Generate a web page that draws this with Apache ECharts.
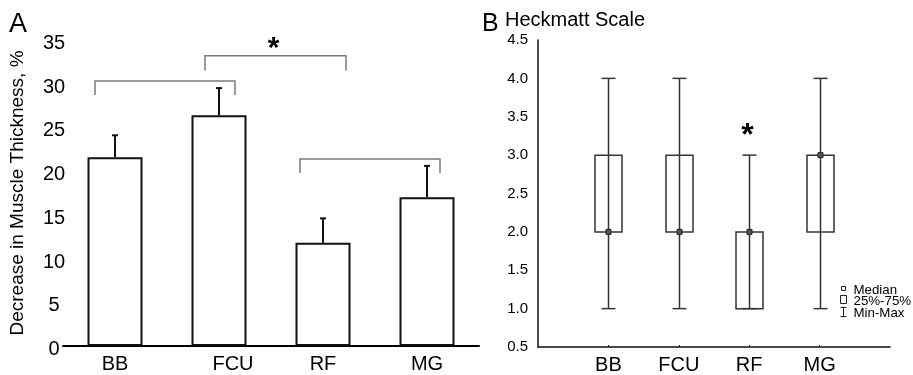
<!DOCTYPE html>
<html><head><meta charset="utf-8">
<script src="https://cdn.jsdelivr.net/npm/echarts@6/dist/echarts.min.js"></script>
<style>html,body{margin:0;padding:0;background:#fff}#c{width:913px;height:375px}</style>
</head><body><div id="c"></div>
<script>
// ---- Panel A data ----
const categories = ['BB', 'FCU', 'RF', 'MG'];
const meanDecrease = [21.6, 26.4, 11.8, 17.0];
const errorUpper = [24.1, 29.5, 14.6, 20.6];
const bracketFrom = ['BB', 'FCU', 'RF'];
const bracketTo = ['FCU', 'RF', 'MG'];
const bracketTop = [30.3, 33.2, 21.4];
const bracketLeg = [28.7, 31.5, 19.8];
const bracketSig = ['', '*', ''];
const yAxisTitleA = 'Decrease in Muscle Thickness, %';

// ---- Panel B data (Heckmatt scale) ----
const heckMin = [1, 1, 1, 1];
const heckQ1 = [2, 2, 1, 2];
const heckMedian = [2, 2, 2, 3];
const heckQ3 = [3, 3, 2, 3];
const heckMax = [4, 4, 3, 4];
const heckSig = ['', '', '*', ''];
const legendLabels = ['Median', '25%-75%', 'Min-Max'];

const FONT = 'Liberation Sans, Arial, Helvetica, sans-serif';
const chart = echarts.init(document.getElementById('c'), null, {renderer: 'canvas'});

// style-only pixel offsets of bracket ends relative to bar centres
const bracketOffsets = [[-20, 16], [-14, 23], [-23, 13]];

const bracketData = bracketFrom.map((f, i) => [categories.indexOf(f), categories.indexOf(bracketTo[i]), bracketTop[i], bracketLeg[i], i]);
const errData = categories.map((c, i) => [i, meanDecrease[i], errorUpper[i]]);
const boxData = categories.map((c, i) => [i + 1, heckMin[i], heckQ1[i], heckMedian[i], heckQ3[i], heckMax[i]]);

const option = {
  animation: false,
  backgroundColor: '#fff',
  textStyle: {fontFamily: FONT},
  grid: [
    {left: 63, top: 40, width: 416, height: 306, containLabel: false},
    {left: 538, top: 40, width: 352, height: 307.5, containLabel: false}
  ],
  xAxis: [
    {
      type: 'category', gridIndex: 0, data: categories,
      axisLine: {lineStyle: {color: '#000', width: 2}},
      axisTick: {show: false},
      axisLabel: {
        color: '#000', fontSize: 20, fontFamily: FONT, margin: 8,
        formatter: v => v === 'FCU' ? '{s|' + v + '}' : v,
        rich: {s: {fontSize: 20, fontFamily: FONT, color: '#000', padding: [0, 0, 0, 28]}}
      }
    },
    {
      type: 'category', gridIndex: 1, data: [''].concat(categories, ['']), boundaryGap: false,
      axisLine: {lineStyle: {color: '#111', width: 1.5}},
      axisTick: {show: true, inside: true, length: 2, lineStyle: {color: '#111'},
        interval: (i) => i > 0 && i < categories.length + 1},
      axisLabel: {color: '#000', fontSize: 20, fontFamily: FONT, margin: 8,
        interval: 0}
    }
  ],
  yAxis: [
    {
      type: 'value', gridIndex: 0, min: 0, max: 35, interval: 5,
      axisLine: {show: false}, axisTick: {show: false}, splitLine: {show: false},
      axisLabel: {color: '#000', fontSize: 20, fontFamily: FONT, margin: 9, align: 'center',
        formatter: v => '{a|' + v + '}',
        rich: {a: {fontSize: 20, fontFamily: FONT, color: '#000', padding: [7, 0, 0, 0]}}},
      name: yAxisTitleA, nameLocation: 'middle', nameGap: 36, nameRotate: 90,
      nameTextStyle: {color: '#000', fontSize: 19, fontFamily: FONT}
    },
    {
      type: 'value', gridIndex: 1, min: 0.5, max: 4.5, interval: 0.5,
      axisLine: {show: true, lineStyle: {color: '#111', width: 1.5}},
      axisTick: {show: false}, splitLine: {show: false},
      axisLabel: {color: '#000', fontSize: 15, fontFamily: FONT, margin: 10,
        formatter: v => v.toFixed(1)}
    }
  ],
  series: [
    {
      type: 'bar', xAxisIndex: 0, yAxisIndex: 0, data: meanDecrease, barWidth: 55,
      itemStyle: {color: '#fff', borderColor: '#111', borderWidth: 2},
      z: 2
    },
    {
      type: 'custom', xAxisIndex: 0, yAxisIndex: 0, data: errData,
      encode: {x: 0, y: [1, 2]}, z: 3,
      renderItem: (params, api) => {
        const i = api.value(0);
        const b = api.coord([i, api.value(1)]);
        const t = api.coord([i, api.value(2)]);
        const x = Math.round(b[0]);
        return {type: 'group', children: [
          {type: 'line', shape: {x1: x, y1: b[1], x2: x, y2: t[1]}, style: {stroke: '#111', lineWidth: 2}},
          {type: 'line', shape: {x1: x - 3, y1: t[1], x2: x + 3, y2: t[1]}, style: {stroke: '#111', lineWidth: 2}}
        ]};
      }
    },
    {
      type: 'custom', xAxisIndex: 0, yAxisIndex: 0, data: bracketData,
      encode: {x: [0, 1], y: [2, 3]}, z: 3,
      renderItem: (params, api) => {
        const k = api.value(4);
        const off = bracketOffsets[k];
        const a = api.coord([api.value(0), api.value(2)]);
        const b = api.coord([api.value(1), api.value(2)]);
        const leg = api.coord([api.value(0), api.value(3)])[1];
        const x1 = a[0] + off[0], x2 = b[0] + off[1], y = a[1];
        const ch = [{type: 'polyline', shape: {points: [[x1, leg], [x1, y], [x2, y], [x2, leg]]},
          style: {stroke: '#7a7a7a', lineWidth: 1.5, fill: null}}];
        if (bracketSig[k]) {
          ch.push({type: 'text', x: (x1 + x2) / 2 - 2, y: y + 8,
            style: {text: bracketSig[k], font: 'bold 30px ' + FONT, fill: '#000', align: 'center', verticalAlign: 'bottom'}});
        }
        return {type: 'group', children: ch};
      }
    },
    {
      type: 'custom', xAxisIndex: 1, yAxisIndex: 1, data: boxData,
      encode: {x: 0, y: [1, 2, 3, 4, 5]}, z: 3,
      renderItem: (params, api) => {
        const i = api.value(0);
        const c = v => api.coord([i, v]);
        const x = Math.round(c(api.value(1))[0]) + 0.5;
        const yMin = c(api.value(1))[1], yQ1 = c(api.value(2))[1], yMed = c(api.value(3))[1],
              yQ3 = c(api.value(4))[1], yMax = c(api.value(5))[1];
        const bw = 27, cw = 14, ms = 5;
        const st = {stroke: '#333', lineWidth: 1.5};
        const ch = [
          {type: 'line', shape: {x1: x, y1: yMin, x2: x, y2: yMax}, style: st},
          {type: 'line', shape: {x1: x - cw / 2, y1: yMax, x2: x + cw / 2, y2: yMax}, style: st},
          {type: 'line', shape: {x1: x - cw / 2, y1: yMin, x2: x + cw / 2, y2: yMin}, style: st},
          {type: 'rect', shape: {x: x - bw / 2, y: yQ3, width: bw, height: yQ1 - yQ3}, style: {fill: 'none', stroke: '#333', lineWidth: 1.5}},
          {type: 'rect', shape: {x: x - ms / 2, y: yMed - ms / 2, width: ms, height: ms}, style: {fill: '#555', stroke: '#222', lineWidth: 1}}
        ];
        const sig = heckSig[params.dataIndex];
        if (sig) {
          ch.push({type: 'text', x: x - 2, y: yMax - 3,
            style: {text: sig, font: 'bold 32px ' + FONT, fill: '#000', align: 'center', verticalAlign: 'bottom'}});
        }
        return {type: 'group', children: ch};
      }
    }
  ],
  graphic: [
    {type: 'text', left: 9, top: 11, style: {text: 'A', font: '27px ' + FONT, fill: '#000'}},
    {type: 'text', left: 482, top: 12, style: {text: 'B', font: '25px ' + FONT, fill: '#000'}},
    {type: 'text', left: 505, top: 10, style: {text: 'Heckmatt Scale', font: '20px ' + FONT, fill: '#000'}},
    {type: 'group', left: 838, top: 284, children: [
      {type: 'rect', shape: {x: 1, y: 2, width: 4, height: 4}, style: {fill: '#fff', stroke: '#222', lineWidth: 1}},
      {type: 'rect', shape: {x: 0, y: 11, width: 6, height: 8}, style: {fill: '#fff', stroke: '#222', lineWidth: 1}},
      {type: 'line', shape: {x1: 3, y1: 23, x2: 3, y2: 32}, style: {stroke: '#222', lineWidth: 1}},
      {type: 'line', shape: {x1: 0, y1: 23, x2: 6, y2: 23}, style: {stroke: '#222', lineWidth: 1}},
      {type: 'line', shape: {x1: 0, y1: 32, x2: 6, y2: 32}, style: {stroke: '#222', lineWidth: 1}},
      {type: 'text', x: 13, y: 6, style: {text: legendLabels[0], font: '13.3px ' + FONT, fill: '#000', verticalAlign: 'middle'}},
      {type: 'text', x: 13, y: 17, style: {text: legendLabels[1], font: '13.3px ' + FONT, fill: '#000', verticalAlign: 'middle'}},
      {type: 'text', x: 13, y: 29, style: {text: legendLabels[2], font: '13.3px ' + FONT, fill: '#000', verticalAlign: 'middle'}}
    ]}
  ]
};
chart.setOption(option);
</script></body></html>
